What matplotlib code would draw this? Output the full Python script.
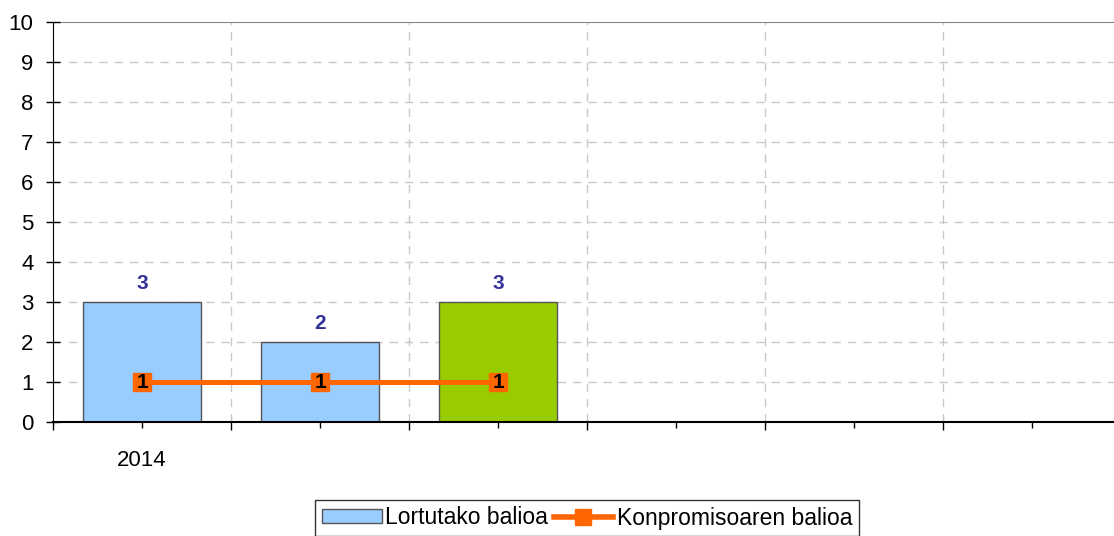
import numpy as np
import matplotlib.pyplot as plt
from matplotlib.patches import Patch
from matplotlib.lines import Line2D

plt.rcParams['font.family'] = ['Liberation Sans', 'DejaVu Sans']

# data
categories = ['2014', '', '', '', '', '']
lortutako = [3, 2, 3]
konpromiso = [1, 1, 1]
bar_colors = ['#99ccff', '#99ccff', '#99cc00']

fig = plt.figure(figsize=(11.14, 5.36), dpi=100)
W, H = 1114.0, 536.0
# axes runs past the right edge like the original
ax = fig.add_axes([53 / W, 1 - 422 / H, 1068 / W, 400 / H])

n = len(categories)
x = np.arange(len(lortutako))

ax.set_xlim(-0.5, n - 0.5)
ax.set_ylim(0, 10)

# grid
for yv in range(1, 10):
    ax.axhline(yv, color='#c8c8c8', lw=1, ls=(0, (6, 5)), zorder=0)
for xv in np.arange(0.5, n - 0.5, 1):
    ax.axvline(xv, color='#c8c8c8', lw=1, ls=(0, (6, 5)), zorder=0)
ax.axhline(10, color='#808080', lw=1.5, zorder=1)

ax.bar(x, lortutako, width=0.66, color=bar_colors, edgecolor='#555555', lw=1, zorder=2)
for xi, v in zip(x, lortutako):
    ax.text(xi, v + 0.32, str(v), ha='center', va='baseline', fontsize=15, fontweight='bold',
            color='#333399')

ax.plot(x, konpromiso, color='#ff6600', lw=3.6, marker='s', ms=12.5, mfc='#ff6600', mec='#ff6600',
        zorder=3)
for xi, v in zip(x, konpromiso):
    ax.text(xi, v, str(v), ha='center', va='center', fontsize=15, fontweight='bold', color='black',
            zorder=4)

for s in ['top', 'right']:
    ax.spines[s].set_visible(False)
ax.spines['left'].set_color('black')
ax.spines['bottom'].set_color('black')
ax.spines['bottom'].set_linewidth(1.5)

ax.set_yticks(range(0, 11))
ax.tick_params(axis='y', labelsize=16, length=10, width=1, direction='inout', pad=9)
ax.set_xticks(np.arange(-0.5, n, 1))
ax.set_xticklabels([])
ax.tick_params(axis='x', length=6, width=1)
ax.set_xticks(np.arange(n), minor=True)
ax.set_xticklabels(categories, minor=True, fontsize=16)
ax.tick_params(axis='x', which='minor', length=4, width=1, pad=16)

handles = [Patch(facecolor='#99ccff', edgecolor='#555555', lw=1),
           Line2D([], [], color='#ff6600', lw=4, marker='s', ms=11, mfc='#ff6600', mec='#ff6600')]
labels = ['Lortutako balioa', 'Konpromisoaren balioa']
leg = ax.legend(handles, labels, loc='center', bbox_to_anchor=(587 / W, 1 - 518 / H),
                bbox_transform=fig.transFigure, ncol=2, fontsize=16.5, frameon=True, fancybox=False,
                edgecolor='black', handlelength=2.6, handleheight=0.55, handletextpad=0.15,
                columnspacing=0.25, borderpad=0.3)
leg.get_frame().set_linewidth(1)

fig.savefig('out.png', dpi=100)
